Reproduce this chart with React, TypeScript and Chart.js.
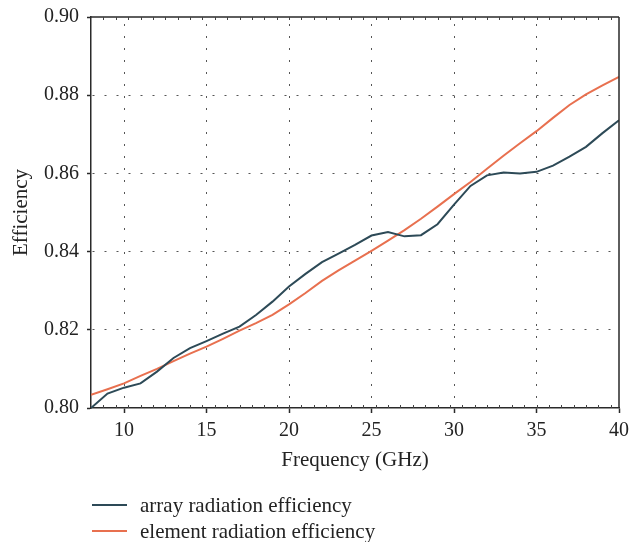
import React, { useEffect, useRef } from 'react';
import { Chart, registerables } from 'chart.js';

Chart.register(...registerables);

const frequencies = [8, 9, 10, 11, 12, 13, 14, 15, 16, 17, 18, 19, 20, 21, 22, 23, 24, 25, 26, 27, 28, 29, 30, 31, 32, 33, 34, 35, 36, 37, 38, 39, 40];

const arrayEfficiency = [
  0.8000, 0.8037, 0.8052, 0.8063, 0.8093, 0.8128, 0.8153, 0.8171, 0.8190, 0.8208,
  0.8238, 0.8272, 0.8311, 0.8343, 0.8373, 0.8395, 0.8417, 0.8441, 0.8450, 0.8439,
  0.8442, 0.8470, 0.8520, 0.8568, 0.8595, 0.8602, 0.8600, 0.8604, 0.8620, 0.8643,
  0.8668, 0.8703, 0.8736,
];

const elementEfficiency = [
  0.8034, 0.8048, 0.8063, 0.8082, 0.8100, 0.8120, 0.8139, 0.8157, 0.8177, 0.8198,
  0.8217, 0.8238, 0.8265, 0.8294, 0.8325, 0.8352, 0.8377, 0.8402, 0.8428, 0.8455,
  0.8484, 0.8515, 0.8547, 0.8578, 0.8612, 0.8645, 0.8677, 0.8708, 0.8742, 0.8775,
  0.8802, 0.8825, 0.8847,
];

const seriesLabels = ['array radiation efficiency', 'element radiation efficiency'];
const seriesColors = ['#2d4a57', '#e8704f'];
const xTickValues = [10, 15, 20, 25, 30, 35, 40];
const yTickValues = [0.8, 0.82, 0.84, 0.86, 0.88, 0.9];
const xRange = [8, 40];
const yRange = [0.8, 0.9];
const minorTickStep = 0.75;
const xTitle = 'Frequency (GHz)';
const yTitle = 'Efficiency';

const FONT = '"Liberation Serif", "Times New Roman", serif';
const TEXT = '#232323';
const AXIS = '#2a2a2a';
const GRID = '#555555';

const framePlugin = {
  id: 'frame',
  afterDraw(chart: any) {
    const { ctx, chartArea } = chart;
    const { left, right, top, bottom } = chartArea;
    const x = chart.scales.x;
    ctx.save();
    ctx.strokeStyle = AXIS;
    ctx.lineWidth = 1.5;
    ctx.beginPath();
    ctx.moveTo(left, top);
    ctx.lineTo(right, top);
    ctx.moveTo(right, top);
    ctx.lineTo(right, bottom);
    ctx.stroke();
    ctx.lineWidth = 1;
    ctx.strokeStyle = '#444';
    ctx.beginPath();
    for (let v = xRange[0] + minorTickStep; v < xRange[1]; v += minorTickStep) {
      const px = Math.round(x.getPixelForValue(v)) + 0.5;
      ctx.moveTo(px, top);
      ctx.lineTo(px, top + 3);
      ctx.moveTo(px, bottom);
      ctx.lineTo(px, bottom - 3);
    }
    ctx.stroke();
    ctx.restore();
  },
};

const zeroPadding = (scale: any) => {
  scale.paddingLeft = 0;
  scale.paddingRight = 0;
  scale.paddingTop = 0;
  scale.paddingBottom = 0;
};

export default function App() {
  const canvasRef = useRef<HTMLCanvasElement>(null);

  useEffect(() => {
    document.body.style.margin = '0';
    const canvas = canvasRef.current;
    if (!canvas) return;
    const chart = new Chart(canvas, {
      type: 'line',
      data: {
        datasets: [
          {
            label: seriesLabels[0],
            data: frequencies.map((f, i) => ({ x: f, y: arrayEfficiency[i] })),
            borderColor: seriesColors[0],
            backgroundColor: seriesColors[0],
            borderWidth: 2,
            pointRadius: 0,
            tension: 0,
          },
          {
            label: seriesLabels[1],
            data: frequencies.map((f, i) => ({ x: f, y: elementEfficiency[i] })),
            borderColor: seriesColors[1],
            backgroundColor: seriesColors[1],
            borderWidth: 2,
            pointRadius: 0,
            tension: 0,
          },
        ],
      },
      options: {
        responsive: false,
        animation: false,
        devicePixelRatio: 1,
        layout: { padding: { top: 17, right: 10, bottom: 69, left: 0 } },
        plugins: {
          legend: { display: false },
          tooltip: { enabled: false },
        },
        scales: {
          x: {
            type: 'linear',
            min: xRange[0],
            max: xRange[1],
            afterBuildTicks: (scale: any) => {
              scale.ticks = xTickValues.map((v) => ({ value: v }));
            },
            afterFit: (scale: any) => {
              scale.height = 65;
              zeroPadding(scale);
            },
            ticks: {
              autoSkip: false,
              maxRotation: 0,
              padding: 6,
              color: TEXT,
              font: { family: FONT, size: 20 },
              callback: (v: any) => String(v),
            },
            grid: {
              color: (c: any) => (c.tick && c.tick.value === xRange[1] ? 'rgba(0,0,0,0)' : GRID),
              lineWidth: 1,
              tickColor: AXIS,
              tickLength: 5,
              tickWidth: 1.5,
              drawTicks: true,
            },
            border: { display: true, color: AXIS, width: 1.5, dash: [2, 10], dashOffset: 5 },
            title: {
              display: true,
              text: xTitle,
              color: TEXT,
              font: { family: FONT, size: 21 },
              padding: 0,
            },
          },
          y: {
            type: 'linear',
            min: yRange[0],
            max: yRange[1],
            afterBuildTicks: (scale: any) => {
              scale.ticks = yTickValues.map((v) => ({ value: v }));
            },
            afterFit: (scale: any) => {
              scale.width = 91;
              zeroPadding(scale);
            },
            ticks: {
              autoSkip: false,
              padding: 8,
              color: TEXT,
              font: { family: FONT, size: 20 },
              callback: (v: any) => Number(v).toFixed(2),
            },
            grid: {
              color: (c: any) =>
                c.tick && (Math.abs(c.tick.value - yRange[0]) < 1e-9 || Math.abs(c.tick.value - yRange[1]) < 1e-9)
                  ? 'rgba(0,0,0,0)'
                  : GRID,
              lineWidth: 1,
              tickColor: AXIS,
              tickLength: 4,
              tickWidth: 1.5,
              drawTicks: true,
            },
            border: { display: true, color: AXIS, width: 1.5, dash: [2, 10], dashOffset: 11 },
            title: {
              display: true,
              text: yTitle,
              color: TEXT,
              font: { family: FONT, size: 21 },
              padding: { top: 9, bottom: 0 },
            },
          },
        },
      },
      plugins: [framePlugin],
    } as any);
    return () => chart.destroy();
  }, []);

  return (
    <div style={{ position: 'relative', width: 629, height: 542, background: '#fff' }}>
      <canvas ref={canvasRef} width={629} height={542} style={{ display: 'block', width: 629, height: 542 }} />
      <div style={{ position: 'absolute', left: 92, top: 492, fontFamily: FONT, fontSize: 21, color: TEXT }}>
        {seriesLabels.map((label, i) => (
          <div key={label} style={{ display: 'flex', alignItems: 'center', height: 26, whiteSpace: 'nowrap' }}>
            <span style={{ display: 'inline-block', width: 35, height: 2, background: seriesColors[i], marginRight: 13 }} />
            <span style={{ lineHeight: '26px' }}>{label}</span>
          </div>
        ))}
      </div>
    </div>
  );
}
